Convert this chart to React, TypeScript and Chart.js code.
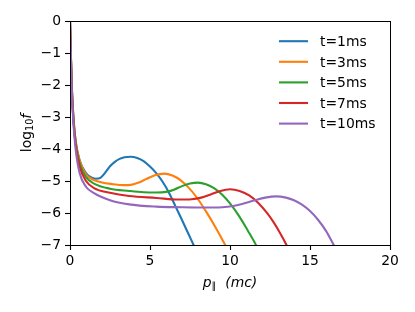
import React, { useEffect, useRef } from "react";
import { Chart, registerables } from "chart.js";
Chart.register(...registerables);

const seriesLabels = ["t=1ms", "t=3ms", "t=5ms", "t=7ms", "t=10ms"];
const seriesColors = ["#1f77b4", "#ff7f0e", "#2ca02c", "#d62728", "#9467bd"];

const p1 = [0, 0.1, 0.2, 0.35, 0.6, 1.0, 1.3, 1.6, 1.9, 2.2, 2.5, 2.8, 3.1, 3.4, 3.8, 4.2, 4.6, 5.0, 5.4, 5.8, 6.2, 6.6, 7.0, 7.4, 7.8, 8.2];
const f1 = [0, -1.9, -2.9, -3.75, -4.35, -4.75, -4.88, -4.93, -4.9, -4.74, -4.54, -4.4, -4.31, -4.26, -4.24, -4.28, -4.38, -4.55, -4.76, -5.03, -5.38, -5.8, -6.22, -6.65, -7.08, -7.5];

const p3 = [0, 0.1, 0.2, 0.35, 0.6, 1.0, 1.5, 2.0, 2.7, 3.3, 3.8, 4.3, 4.8, 5.3, 5.9, 6.4, 6.9, 7.4, 7.9, 8.5, 9.1, 9.7, 10.0];
const f3 = [0, -1.9, -2.9, -3.75, -4.35, -4.8, -4.97, -5.05, -5.1, -5.13, -5.12, -5.05, -4.93, -4.82, -4.77, -4.83, -4.97, -5.2, -5.5, -5.95, -6.45, -7.0, -7.3];

const p5 = [0, 0.1, 0.2, 0.35, 0.6, 1.0, 1.5, 2.5, 3.7, 4.6, 5.4, 6.0, 6.5, 7.0, 7.5, 8.0, 8.5, 9.0, 9.5, 10.0, 10.6, 11.1, 11.6, 11.9];
const f5 = [0, -1.9, -2.95, -3.8, -4.45, -4.88, -5.08, -5.24, -5.31, -5.35, -5.36, -5.34, -5.27, -5.16, -5.08, -5.05, -5.1, -5.22, -5.42, -5.7, -6.12, -6.54, -6.98, -7.3];

const p7 = [0, 0.1, 0.2, 0.35, 0.6, 1.0, 1.5, 2.5, 3.7, 5.4, 6.8, 7.6, 8.2, 8.8, 9.4, 10.0, 10.6, 11.2, 11.8, 12.3, 12.7, 13.1, 13.5, 13.8];
const f7 = [0, -1.95, -3.0, -3.85, -4.55, -5.0, -5.22, -5.37, -5.47, -5.53, -5.58, -5.57, -5.52, -5.42, -5.31, -5.26, -5.31, -5.45, -5.7, -5.99, -6.27, -6.6, -6.97, -7.3];

const p10 = [0, 0.1, 0.2, 0.35, 0.6, 1.0, 1.5, 2.5, 3.7, 5.4, 7.0, 8.5, 9.5, 10.2, 10.8, 11.5, 12.2, 12.9, 13.5, 14.0, 14.5, 15.0, 15.5, 16.0, 16.45, 16.8];
const f10 = [0, -2.0, -3.1, -4.0, -4.75, -5.18, -5.38, -5.6, -5.73, -5.8, -5.82, -5.83, -5.82, -5.78, -5.71, -5.61, -5.52, -5.48, -5.52, -5.6, -5.74, -5.94, -6.21, -6.56, -6.97, -7.3];

const seriesX = [p1, p3, p5, p7, p10];
const seriesY = [f1, f3, f5, f7, f10];

const xMin = 0, xMax = 20, xStep = 5;
const yMin = -7, yMax = 0, yStep = 1;

const FONT = "DejaVu Sans";
const FS = 13.9;

const fmt = (v: number) => (v < 0 ? "\u2212" + Math.abs(v) : String(v));

const decorPlugin = {
  id: "decor",
  afterDraw(chart: any) {
    const { ctx, chartArea } = chart;
    const { left, top, right, bottom } = chartArea;
    ctx.save();
    ctx.strokeStyle = "#000";
    ctx.lineWidth = 1;
    ctx.strokeRect(Math.round(left) + 0.5, Math.round(top) + 0.5, Math.round(right - left), Math.round(bottom - top));

    const rows = [41.2, 61.8, 82.4, 103.0, 123.6];
    chart.data.datasets.forEach((ds: any, i: number) => {
      const y = rows[i];
      ctx.strokeStyle = ds.borderColor;
      ctx.lineWidth = 2.1;
      ctx.beginPath();
      ctx.moveTo(279, y);
      ctx.lineTo(308, y);
      ctx.stroke();
      ctx.fillStyle = "#000";
      ctx.font = `${FS}px "${FONT}"`;
      ctx.textAlign = "left";
      ctx.textBaseline = "alphabetic";
      ctx.fillText(ds.label, 320, y + 4.8);
    });

    ctx.fillStyle = "#000";
    ctx.textBaseline = "alphabetic";
    ctx.textAlign = "left";
    const italic = `italic ${FS}px "${FONT}"`;
    const normal = `${FS}px "${FONT}"`;
    const small = `${FS * 0.7}px "${FONT}"`;
    const parts = [
      { t: "p", f: italic, dy: 0 },
      { t: "\u2225", f: small, dy: 2.8 },
      { t: "  (mc)", f: italic, dy: 0 },
    ];
    let w = 0;
    parts.forEach((p) => { ctx.font = p.f; w += ctx.measureText(p.t).width; });
    let x = (left + right) / 2 - w / 2;
    const by = 286.5;
    parts.forEach((p) => {
      ctx.font = p.f;
      ctx.fillText(p.t, x, by + p.dy);
      x += ctx.measureText(p.t).width;
    });

    const yparts = [
      { t: "log", f: normal, dy: 0 },
      { t: "10", f: small, dy: 2.8 },
      { t: "f", f: italic, dy: 0 },
    ];
    let wy = 0;
    yparts.forEach((p) => { ctx.font = p.f; wy += ctx.measureText(p.t).width; });
    ctx.translate(30.5, (top + bottom) / 2);
    ctx.rotate(-Math.PI / 2);
    let tx = -wy / 2;
    yparts.forEach((p) => {
      ctx.font = p.f;
      ctx.fillText(p.t, tx, p.dy);
      tx += ctx.measureText(p.t).width;
    });
    ctx.restore();
  },
};

export default function App() {
  const ref = useRef<HTMLCanvasElement | null>(null);
  useEffect(() => {
    document.body.style.margin = "0";
    const canvas = ref.current!;
    const datasets = seriesLabels.map((label, i) => ({
      label,
      data: seriesX[i].map((x, j) => ({ x, y: seriesY[i][j] })),
      borderColor: seriesColors[i],
      backgroundColor: seriesColors[i],
      borderWidth: 2.1,
      pointRadius: 0,
      fill: false,
      cubicInterpolationMode: "monotone" as const,
      clip: 0,
      order: seriesLabels.length - i,
    }));
    const tickFont = { family: FONT, size: FS };
    const chart = new Chart(canvas, {
      type: "line",
      data: { datasets },
      options: {
        animation: false,
        responsive: false,
        devicePixelRatio: 1,
        layout: { padding: { left: 0, top: 21, right: 25, bottom: 0 } },
        plugins: { legend: { display: false }, tooltip: { enabled: false } },
        scales: {
          x: {
            type: "linear",
            min: xMin,
            max: xMax,
            afterFit: (s: any) => { s.height = 67; },
            ticks: { stepSize: xStep, font: tickFont, color: "#000", padding: 3, callback: (v: any) => fmt(Number(v)), maxRotation: 0 },
            grid: { drawOnChartArea: false, drawTicks: true, tickLength: 5, tickWidth: 1.1, tickColor: "#000", color: "#000" },
            border: { display: true, color: "#000", width: 1 },
          },
          y: {
            type: "linear",
            min: yMin,
            max: yMax,
            afterFit: (s: any) => { s.width = 70; },
            ticks: { stepSize: yStep, font: tickFont, color: "#000", padding: 4, callback: (v: any) => fmt(Number(v)) },
            grid: { drawOnChartArea: false, drawTicks: true, tickLength: 5, tickWidth: 1.1, tickColor: "#000", color: "#000" },
            border: { display: true, color: "#000", width: 1 },
          },
        },
      },
      plugins: [decorPlugin],
    });
    return () => chart.destroy();
  }, []);
  return <canvas ref={ref} width={415} height={312} style={{ display: "block", width: 415, height: 312 }} />;
}
